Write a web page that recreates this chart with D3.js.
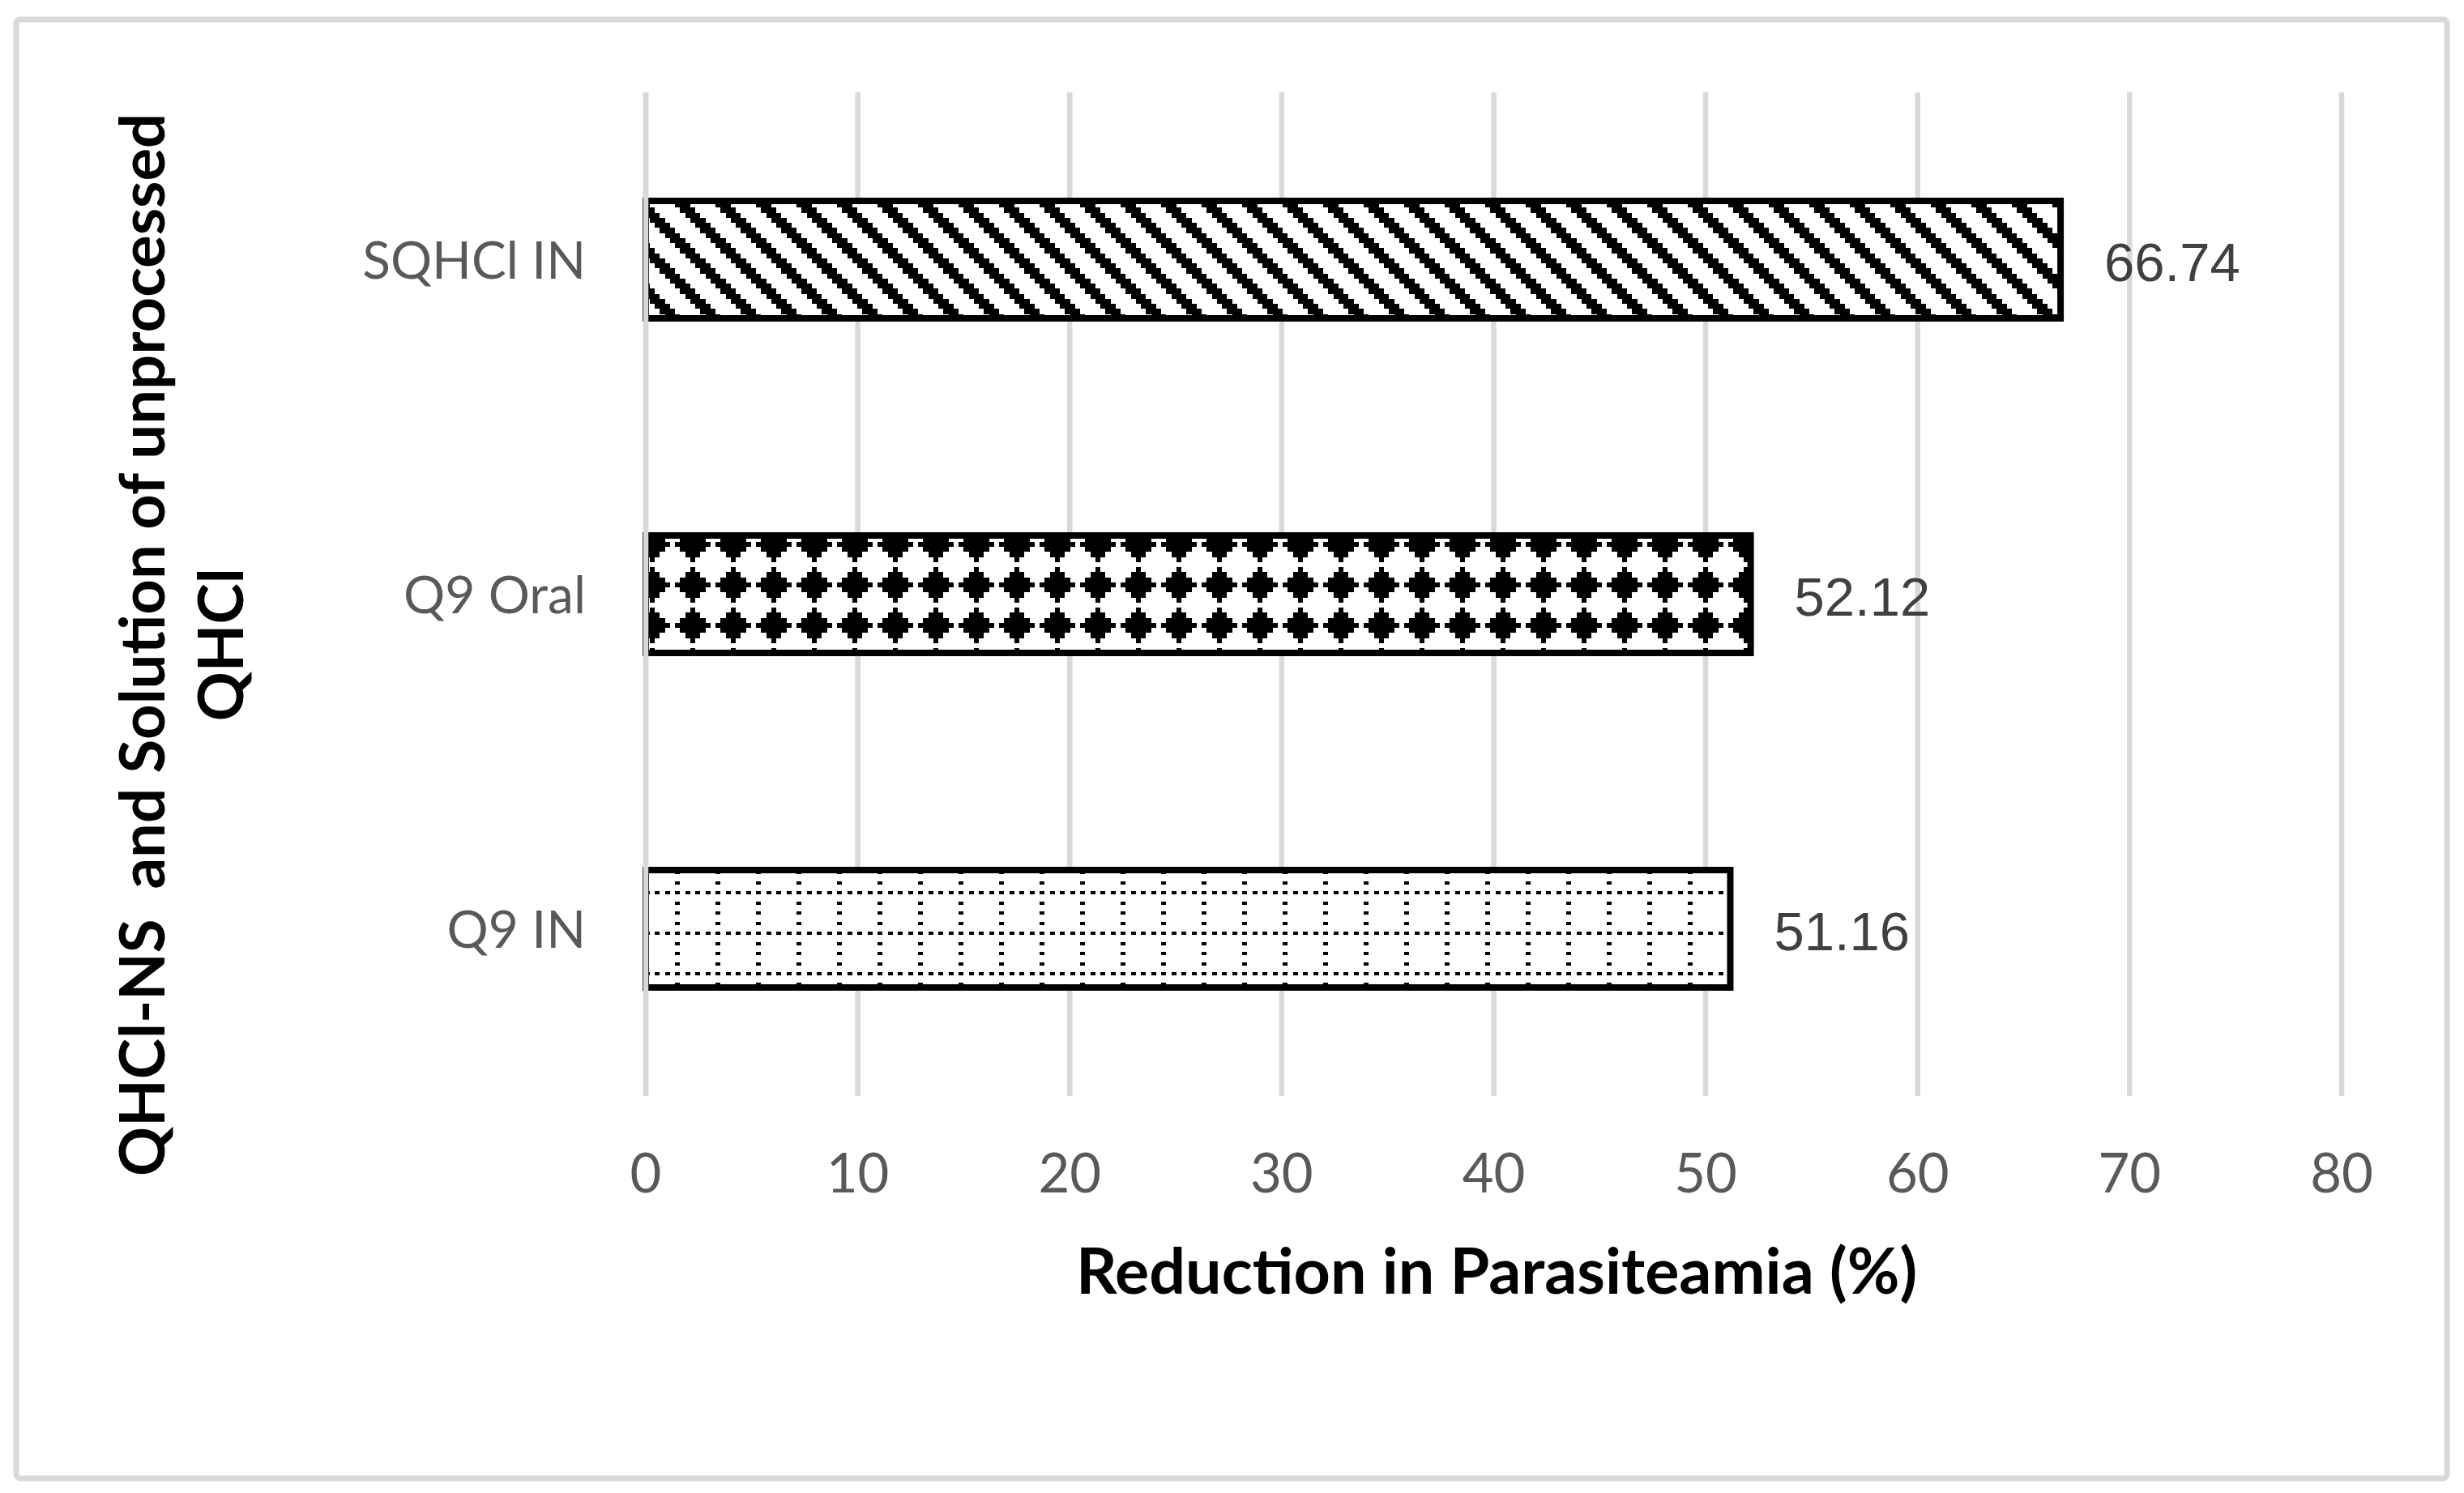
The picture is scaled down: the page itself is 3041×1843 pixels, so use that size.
<!DOCTYPE html>
<html lang="en">
<head>
  <meta charset="UTF-8">
  <title>Reduction in Parasiteamia</title>
  <script src="https://d3js.org/d3.v7.min.js"></script>
  <style>
    body { margin: 0; background: #fff; }
    text { white-space: pre; }
  </style>
</head>
<body>
  <div id="chart"></div>

  <script>
    // Data
    const categories = ["SQHCl IN", "Q9 Oral", "Q9 IN"];
    const values = [66.74, 52.12, 51.16];
    const xTicks = [0, 10, 20, 30, 40, 50, 60, 70, 80];
    const xTitle = "Reduction in Parasiteamia (%)";
    const yTitleLines = ["QHCl-NS  and Solution of unprocessed", "QHCl"];

    // 8x8 hatch tiles (Excel-like pattern fills)
    const tiles = {
      diag: ["XXX.....", ".XXX....", "..XXX...", "...XXX..", "....XXX.", ".....XXX", "X.....XX", "XX.....X"],
      diamond: ["...X....", "..XXX...", ".XXXXX..", "XXXXXXX.", ".XXXXX..", "..XXX...", "...X....", "........"],
      dotgrid: ["X.X.X.X.", "........", "X.......", "........", "X.......", "........", "X.......", "........"]
    };
    const barTiles = ["diag", "diamond", "dotgrid"];

    const W = 3041, H = 1843;
    const plot = { left: 797, right: 2890, top: 114, bottom: 1353 };

    const svg = d3.select("#chart").append("svg")
      .attr("width", W)
      .attr("height", H);

    svg.append("rect").attr("width", W).attr("height", H).attr("fill", "#fff");

    // chart area border
    svg.append("rect")
      .attr("x", 20).attr("y", 24)
      .attr("width", 3000).attr("height", 1801)
      .attr("rx", 5)
      .attr("fill", "none")
      .attr("stroke", "#d9d9d9")
      .attr("stroke-width", 7);

    // patterns
    const defs = svg.append("defs");
    const px = 6.25;
    Object.entries(tiles).forEach(([name, rows]) => {
      const pat = defs.append("pattern")
        .attr("id", "pat-" + name)
        .attr("patternUnits", "userSpaceOnUse")
        .attr("x", 33).attr("y", 0)
        .attr("width", 8 * px).attr("height", 8 * px);
      pat.append("rect").attr("width", 8 * px).attr("height", 8 * px).attr("fill", "#fff");
      const dh = name === "dotgrid" ? 4.4 : px;
      rows.forEach((row, r) => {
        row.split("").forEach((c, k) => {
          if (c === "X") {
            pat.append("rect")
              .attr("x", k * px).attr("y", r * px)
              .attr("width", px).attr("height", dh)
              .attr("fill", "#000")
              .attr("shape-rendering", "crispEdges");
          }
        });
      });
    });

    const x = d3.scaleLinear()
      .domain([0, 80])
      .range([plot.left, plot.right]);

    const y = d3.scaleBand()
      .domain(categories)
      .range([plot.top, plot.bottom])
      .paddingInner(1.7 / 2.7)
      .paddingOuter(0.85 / 2.7);

    // gridlines
    svg.append("g")
      .selectAll("line")
      .data(xTicks)
      .join("line")
      .attr("x1", d => x(d)).attr("x2", d => x(d))
      .attr("y1", plot.top).attr("y2", plot.bottom)
      .attr("stroke", "#d9d9d9")
      .attr("stroke-width", 6.5);

    // bars
    const data = categories.map((c, i) => ({ cat: c, val: values[i], tile: barTiles[i] }));

    svg.append("g")
      .selectAll("rect")
      .data(data)
      .join("rect")
      .attr("x", x(0))
      .attr("y", d => y(d.cat) + 4)
      .attr("width", d => x(d.val) - x(0))
      .attr("height", y.bandwidth() - 8)
      .attr("fill", d => `url(#pat-${d.tile})`)
      .attr("stroke", "#000")
      .attr("stroke-width", 8);

    // zero line sits over the bars' left edges
    svg.append("line")
      .attr("x1", x(0)).attr("x2", x(0))
      .attr("y1", plot.top).attr("y2", plot.bottom)
      .attr("stroke", "#d9d9d9")
      .attr("stroke-width", 6.5);

    // data labels
    svg.append("g")
      .selectAll("text")
      .data(data)
      .join("text")
      .attr("x", d => x(d.val) + 54)
      .attr("y", d => y(d.cat) + y.bandwidth() / 2 + 26)
      .attr("font-family", "'Liberation Sans', Arial, sans-serif")
      .attr("font-size", 67)
      .attr("fill", "#404040")
      .text(d => d.val.toFixed(2));

    // category labels
    svg.append("g")
      .selectAll("text")
      .data(categories)
      .join("text")
      .attr("x", 723)
      .attr("y", d => y(d) + y.bandwidth() / 2 + 23)
      .attr("text-anchor", "end")
      .attr("font-family", "Lato, sans-serif")
      .attr("font-size", 64)
      .attr("fill", "#595959")
      .text(d => d);

    // x tick labels
    svg.append("g")
      .selectAll("text")
      .data(xTicks)
      .join("text")
      .attr("x", d => x(d))
      .attr("y", 1472)
      .attr("text-anchor", "middle")
      .attr("font-family", "Lato, sans-serif")
      .attr("font-size", 67)
      .attr("fill", "#595959")
      .text(d => d);

    // x title
    svg.append("text")
      .attr("x", 1847)
      .attr("y", 1597)
      .attr("text-anchor", "middle")
      .attr("font-family", "Lato, sans-serif")
      .attr("font-weight", "bold")
      .attr("font-size", 79)
      .attr("fill", "#000")
      .text(xTitle);

    // y title, two lines rotated
    const yt = svg.append("g");
    yTitleLines.forEach((line, i) => {
      yt.append("text")
        .attr("transform", `translate(${203 + i * 97}, 796) rotate(-90)`)
        .attr("text-anchor", "middle")
        .attr("font-family", "Lato, sans-serif")
        .attr("font-weight", "bold")
        .attr("font-size", 76)
        .attr("fill", "#000")
        .text(line);
    });
  </script>
</body>
</html>
